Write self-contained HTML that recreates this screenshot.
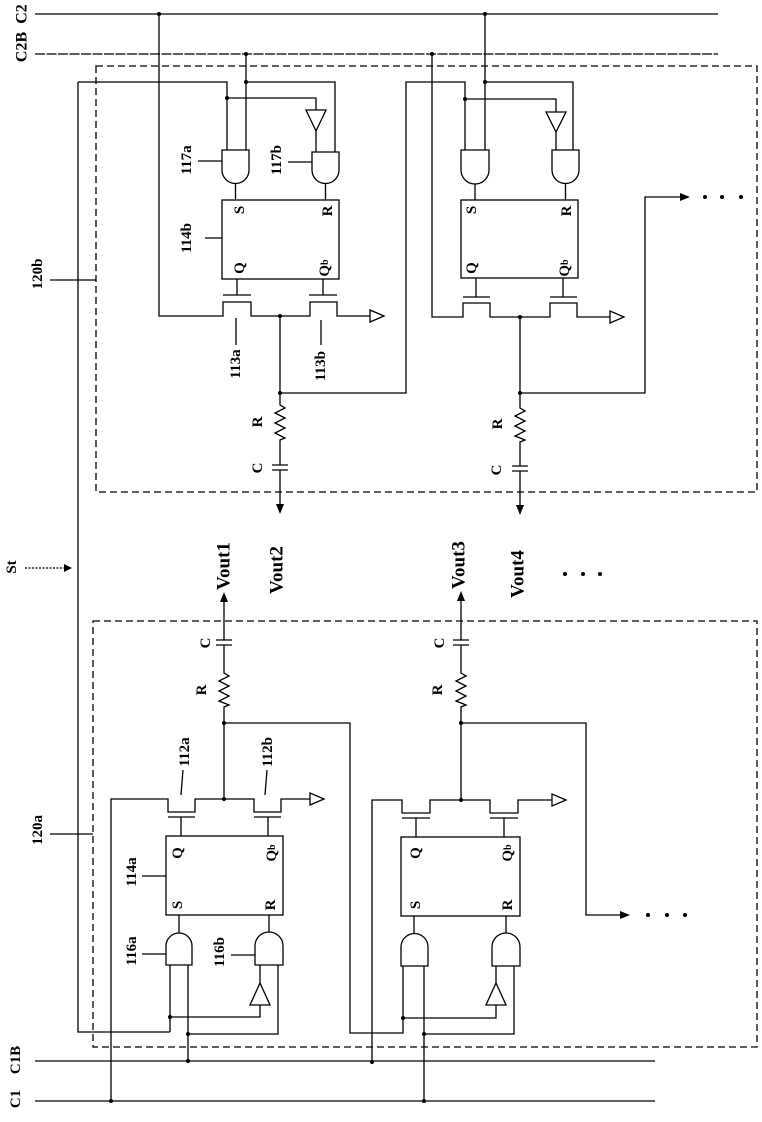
<!DOCTYPE html>
<html><head><meta charset="utf-8"><style>
html,body{margin:0;padding:0;background:#fff;}
svg{display:block;}
text{font-family:"Liberation Serif",serif;font-weight:bold;fill:#000;}
</style></head><body>
<svg width="762" height="1122" viewBox="0 0 762 1122" xmlns="http://www.w3.org/2000/svg">
<g fill="none" stroke="#000" stroke-width="1.3">
<path d="M35 14 H718"/>
<path d="M35 54 H718" stroke-dasharray="10 1.5"/>
<path d="M35 1101 H655"/>
<path d="M35 1061 H655"/>
<rect x="96" y="66" width="661" height="426" stroke-dasharray="7 4"/>
<rect x="93" y="621" width="664" height="426" stroke-dasharray="7 4"/>
<path d="M78 82 V1032 H170"/>
<path d="M25 568 H70" stroke-dasharray="2 1.5"/>

<path d="M78 82 H227 V150"/>
<path d="M227 98 H316 V110"/>
<path d="M306 110 H326 L316 131 Z"/>
<path d="M316 131 V152"/>
<path d="M246 54 V150"/>
<path d="M246 82 H335 V152"/>
<path d="M222 150 H249 V170 A13.5 13.5 0 0 1 222 170 Z"/>
<path d="M312 152 H339 V170 A13.5 13.5 0 0 1 312 170 Z"/>
<path d="M235.5 184 V200 M325.5 184 V200"/>
<rect x="222" y="200" width="117" height="79"/>
<path d="M237 279 V295 M223 295 H251 M323 279 V295 M309 295 H337"/>
<path d="M159 14 V316 H223 V302 H251 V316 H310 V302 H337 V316 H370"/>
<path d="M370 310 V322 L384 316 Z"/>
<path d="M280 316 V405 L285 408 L275 413 L285 418 L275 423 L285 428 L275 433 L285 438 L280 440 V465 M272 465 H288 M272 470 H288 M280 470 V506"/>
<path d="M280 393 H406 V82 H465 V150"/>
<path d="M465 99 H556 V112"/>
<path d="M546 112 H566 L556 132 Z"/>
<path d="M556 132 V150"/>
<path d="M485 14 V150 M485 82 H573 V150"/>
<path d="M432 54 V317 H463 V303 H490 V317 H550 V303 H577 V317 H610"/>
<path d="M610 311 V323 L624 317 Z"/>
<path d="M461 150 H489 V170 A14 14 0 0 1 461 170 Z"/>
<path d="M552 150 H579 V170 A13.5 13.5 0 0 1 552 170 Z"/>
<path d="M475 184 V200 M565.5 184 V200"/>
<rect x="461" y="200" width="117" height="78"/>
<path d="M476 278 V297 M463 297 H490 M563 278 V297 M550 297 H577"/>
<path d="M520 317 V408 L525 411 L515 416 L525 421 L515 426 L525 431 L515 436 L525 440 L520 442 V466 M512 466 H528 M512 471 H528 M520 471 V507"/>
<path d="M520 393 H645 V197 H684"/>

<path d="M224 602 V640 M216 640 H232 M216 645 H232 M224 645 V673 L229 676 L219 681 L229 686 L219 691 L229 696 L219 701 L229 705 L224 707 V799"/>
<path d="M224 723 H350 V1033 H403 V966"/>
<path d="M111 1101 V799 H168 V812 H195 V799 H254 V812 H281 V799 H310"/>
<path d="M310 793 V805 L324 799 Z"/>
<path d="M168 817 H195 M254 817 H281 M181 817 V836 M268 817 V836"/>
<rect x="166" y="836" width="117" height="79"/>
<path d="M166 965 V946 A13 13 0 0 1 192 946 V965 Z"/>
<path d="M255 965 V946 A14 14 0 0 1 283 946 V965 Z"/>
<path d="M179 915 V933 M269 915 V932"/>
<path d="M170 965 V1032"/>
<path d="M170 1017 H260 V1005"/>
<path d="M250 1005 H270 L260 983 Z"/>
<path d="M260 983 V965"/>
<path d="M188 965 V1061 M188 1034 H278 V965"/>
<path d="M461 600 V640 M453 640 H469 M453 645 H469 M461 645 V673 L466 676 L456 681 L466 686 L456 691 L466 696 L456 701 L466 705 L461 707 V800"/>
<path d="M461 723 H586 V915 H624"/>
<path d="M372 1062 V800 H402 V813 H430 V800 H490 V813 H518 V800 H552"/>
<path d="M552 794 V806 L566 800 Z"/>
<path d="M402 818 H430 M490 818 H518 M416 818 V837 M504 818 V837"/>
<rect x="401" y="837" width="119" height="79"/>
<path d="M401 966 V947 A13.5 13.5 0 0 1 428 947 V966 Z"/>
<path d="M492 966 V947 A14 14 0 0 1 520 947 V966 Z"/>
<path d="M414 916 V933 M506 916 V933"/>
<path d="M403 1018 H496 V1005"/>
<path d="M486 1005 H506 L496 983 Z"/>
<path d="M496 983 V966"/>
<path d="M424 966 V1101 M424 1034 H514 V966"/>

<path d="M50 280 H96 M50 834 H93"/>
<path d="M198 161 H222 M288 162 H312 M205 238 H222 M236 345 V318 M321 345 V320"/>
<path d="M183 770 L181 795 M267 770 L265 795 M142 876 H166 M142 954 H166 M231 955 H255"/>
</g>
<g fill="#000">
<path d="M72 568 L64 564 V572 Z"/>
<path d="M280 514 L276 504 H284 Z"/>
<path d="M520 515 L516 505 H524 Z"/>
<path d="M690 197 L680 193 V201 Z"/>
<path d="M630 915 L620 911 V919 Z"/>
<path d="M224 592 L220 602 H228 Z"/>
<path d="M461 591 L457 601 H465 Z"/>
<circle cx="159" cy="14" r="2"/><circle cx="246" cy="54" r="2"/><circle cx="246" cy="82" r="2"/>
<circle cx="227" cy="98" r="2"/><circle cx="280" cy="316" r="2"/><circle cx="280" cy="393" r="2"/>
<circle cx="485" cy="14" r="2"/><circle cx="485" cy="82" r="2"/><circle cx="432" cy="54" r="2"/>
<circle cx="465" cy="99" r="2"/><circle cx="520" cy="317" r="2"/><circle cx="520" cy="393" r="2"/>
<circle cx="705" cy="197" r="2"/><circle cx="722" cy="197" r="2"/><circle cx="741" cy="197" r="2"/>
<circle cx="224" cy="723" r="2"/><circle cx="224" cy="799" r="2"/><circle cx="111" cy="1101" r="2"/>
<circle cx="170" cy="1017" r="2"/><circle cx="188" cy="1034" r="2"/><circle cx="188" cy="1061" r="2"/>
<circle cx="461" cy="723" r="2"/><circle cx="461" cy="800" r="2"/><circle cx="372" cy="1062" r="2"/>
<circle cx="403" cy="1018" r="2"/><circle cx="424" cy="1034" r="2"/><circle cx="424" cy="1101" r="2"/>
<circle cx="648" cy="915" r="2"/><circle cx="667" cy="915" r="2"/><circle cx="685" cy="915" r="2"/>
<circle cx="565" cy="574" r="2"/><circle cx="583" cy="574" r="2"/><circle cx="600" cy="574" r="2"/>
</g>
<g font-size="15" text-anchor="middle" dominant-baseline="central">
<text transform="translate(22,14) rotate(-90)" font-size="16">C2</text>
<text transform="translate(22,47) rotate(-90)" font-size="16">C2B</text>
<text transform="translate(38,274) rotate(-90)">120b</text>
<text transform="translate(12,567) rotate(-90)">St</text>
<text transform="translate(38,830) rotate(-90)">120a</text>
<text transform="translate(16,1060) rotate(-90)">C1B</text>
<text transform="translate(16,1099) rotate(-90)">C1</text>
<text transform="translate(187,160) rotate(-90)">117a</text>
<text transform="translate(277,160) rotate(-90)">117b</text>
<text transform="translate(187,238) rotate(-90)">114b</text>
<text transform="translate(236,364) rotate(-90)">113a</text>
<text transform="translate(321,366) rotate(-90)">113b</text>
<text transform="translate(185,752) rotate(-90)">112a</text>
<text transform="translate(268,752) rotate(-90)">112b</text>
<text transform="translate(132,872) rotate(-90)">114a</text>
<text transform="translate(132,951) rotate(-90)">116a</text>
<text transform="translate(220,952) rotate(-90)">116b</text>
<text transform="translate(224,566) rotate(-90)" font-size="19">Vout1</text>
<text transform="translate(277,570) rotate(-90)" font-size="19">Vout2</text>
<text transform="translate(459,565) rotate(-90)" font-size="19">Vout3</text>
<text transform="translate(518,574) rotate(-90)" font-size="19">Vout4</text>
<text transform="translate(258,422) rotate(-90)">R</text>
<text transform="translate(258,468) rotate(-90)">C</text>
<text transform="translate(498,424) rotate(-90)">R</text>
<text transform="translate(497,470) rotate(-90)">C</text>
<text transform="translate(202,690) rotate(-90)">R</text>
<text transform="translate(206,643) rotate(-90)">C</text>
<text transform="translate(438,690) rotate(-90)">R</text>
<text transform="translate(440,643) rotate(-90)">C</text>
<text transform="translate(240,210) rotate(-90)">S</text>
<text transform="translate(328,211) rotate(-90)">R</text>
<text transform="translate(240,268) rotate(-90)">Q</text>
<text transform="translate(325,268) rotate(-90)">Q<tspan font-size="10">b</tspan></text>
<text transform="translate(472,210) rotate(-90)">S</text>
<text transform="translate(567,211) rotate(-90)">R</text>
<text transform="translate(472,268) rotate(-90)">Q</text>
<text transform="translate(565,268) rotate(-90)">Q<tspan font-size="10">b</tspan></text>
<text transform="translate(178,853) rotate(-90)">Q</text>
<text transform="translate(272,853) rotate(-90)">Q<tspan font-size="10">b</tspan></text>
<text transform="translate(178,905) rotate(-90)">S</text>
<text transform="translate(271,905) rotate(-90)">R</text>
<text transform="translate(416,853) rotate(-90)">Q</text>
<text transform="translate(508,853) rotate(-90)">Q<tspan font-size="10">b</tspan></text>
<text transform="translate(416,905) rotate(-90)">S</text>
<text transform="translate(508,905) rotate(-90)">R</text>
</g>
</svg>
</body></html>
